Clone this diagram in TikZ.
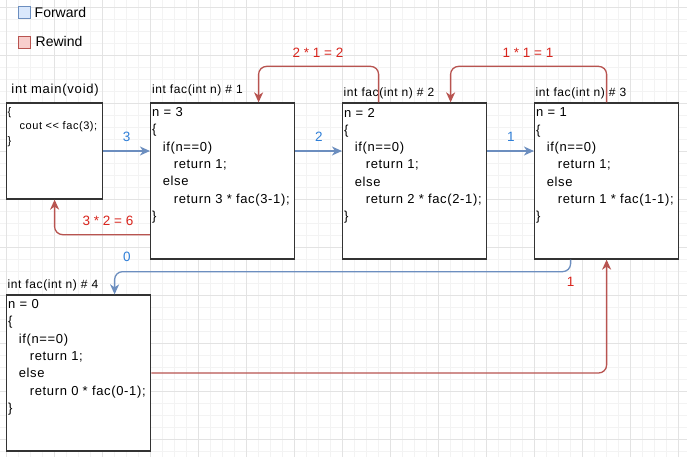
\documentclass[tikz,border=0pt]{standalone}
\usepackage{fontspec}
\setmainfont{Liberation Sans}
\newfontfamily\codefont[LetterSpace=5]{Liberation Sans}
\newfontfamily\headfont[LetterSpace=5]{Liberation Sans}
\newfontfamily\mainheadfont[LetterSpace=6]{Liberation Sans}
\usetikzlibrary{arrows.meta}
\definecolor{fwdline}{HTML}{6C8EBF}
\definecolor{fwdfill}{HTML}{DAE8FC}
\definecolor{rewline}{HTML}{B85450}
\definecolor{rewfill}{HTML}{F8CECC}
\definecolor{fwdtext}{HTML}{2F7FD8}
\definecolor{rewtext}{HTML}{D9251D}
\definecolor{boxline}{HTML}{333333}
\definecolor{gridminor}{HTML}{F3F3F3}
\definecolor{gridmajor}{HTML}{E3E3E3}

\begin{document}
\begin{tikzpicture}[x=1pt,y=-1pt,
  codebox/.style={draw=boxline, line width=1.3pt, fill=white, inner sep=0pt},
  code/.style={anchor=north west, inner sep=0pt, align=left,
    font={\codefont\fontsize{13}{17.3}\selectfont}},
  maincode/.style={anchor=north west, inner sep=0pt, align=left,
    font={\codefont\fontsize{11}{14.3}\selectfont}},
  head/.style={anchor=west, inner sep=0pt, font={\headfont\fontsize{12}{14}\selectfont}},
  legend/.style={anchor=west, inner sep=0pt, font={\fontsize{14}{16}\selectfont}},
  fwd/.style={draw=fwdline, line width=1.3pt, rounded corners=8pt,
    -{Stealth[length=10pt,width=9pt,inset=3pt]}},
  rew/.style={draw=rewline, line width=1.3pt, rounded corners=8pt,
    -{Stealth[length=10pt,width=9pt,inset=3pt]}},
  fwdlabel/.style={inner sep=0pt, text=fwdtext, font={\fontsize{13.5}{16}\selectfont}},
  rewlabel/.style={inner sep=0pt, text=rewtext, font={\fontsize{13.5}{16}\selectfont}},
]
\useasboundingbox (0,0) rectangle (687,457);
\fill[white] (0,0) rectangle (687,457);

% background grid: fine lines every 12pt, stronger lines every 48pt
\foreach \i in {0,...,56} {
  \draw[gridminor, line width=0.8pt] (6.6+12*\i,0) -- (6.6+12*\i,457);
}
\foreach \j in {0,...,37} {
  \draw[gridminor, line width=0.8pt] (0,7+12*\j) -- (687,7+12*\j);
}
\foreach \i in {0,...,14} {
  \draw[gridmajor, line width=0.8pt] (6.6+48*\i,0) -- (6.6+48*\i,457);
}
\foreach \j in {0,...,9} {
  \draw[gridmajor, line width=0.8pt] (0,7+48*\j) -- (687,7+48*\j);
}

% legend
\node[draw=fwdline, fill=fwdfill, line width=1pt, minimum size=12pt, inner sep=0pt] (kfwd) at (24.6,13) {};
\node[legend] (kfwdtext) at (34.5,12) {Forward};
\node[draw=rewline, fill=rewfill, line width=1pt, minimum size=12pt, inner sep=0pt] (krew) at (24.6,42.5) {};
\node[legend] (krewtext) at (35.5,41.7) {Rewind};

% call frames
\node[codebox, minimum width=96pt, minimum height=96pt] (main) at (54.6,151) {};
\node[codebox, minimum width=144pt, minimum height=156pt] (f1) at (222.6,181) {};
\node[codebox, minimum width=144pt, minimum height=156pt] (f2) at (414.6,181) {};
\node[codebox, minimum width=144pt, minimum height=156pt] (f3) at (606.6,181) {};
\node[codebox, minimum width=144pt, minimum height=156pt] (f4) at (78.6,373) {};

% frame titles
\node[head, font={\mainheadfont\fontsize{13}{15}\selectfont}] (tmain) at (11.2,90) {int main(void)};
\node[head] (t1) at (152,90.3) {int fac(int n) \# 1};
\node[head] (t2) at (343.5,93.8) {int fac(int n) \# 2};
\node[head] (t3) at (535.5,93.8) {int fac(int n) \# 3};
\node[head] (t4) at (7.5,285.5) {int fac(int n) \# 4};

% frame bodies
\node[maincode] (cmain) at (7.5,107.3) {\{\\\hspace*{12pt}cout << fac(3);\\\}};
\node[code] (c1) at (152,107.3) {n = 3\\\{\\\hspace*{10.6pt}if(n==0)\\\hspace*{21.6pt}return 1;\\\hspace*{10.6pt}else\\\hspace*{21.6pt}return 3 * fac(3-1);\\\}};
\node[code] (c2) at (344,107.8) {n = 2\\\{\\\hspace*{10.6pt}if(n==0)\\\hspace*{21.6pt}return 1;\\\hspace*{10.6pt}else\\\hspace*{21.6pt}return 2 * fac(2-1);\\\}};
\node[code] (c3) at (536,107.8) {n = 1\\\{\\\hspace*{10.6pt}if(n==0)\\\hspace*{21.6pt}return 1;\\\hspace*{10.6pt}else\\\hspace*{21.6pt}return 1 * fac(1-1);\\\}};
\node[code] (c4) at (8,299.3) {n = 0\\\{\\\hspace*{10.6pt}if(n==0)\\\hspace*{21.6pt}return 1;\\\hspace*{10.6pt}else\\\hspace*{21.6pt}return 0 * fac(0-1);\\\}};

% forward calls
\draw[fwd] (main.east) -- (main.east -| f1.west);
\draw[fwd] (f1.east |- main.east) -- (f2.west |- main.east);
\draw[fwd] (f2.east |- main.east) -- (f3.west |- main.east);
\draw[fwd] ([xshift=-36pt]f3.south) -- ++(0,12) -| ([xshift=36pt]f4.north);

% returned values
\draw[rew] ([yshift=25pt]f1.south west) -| (main.south);
\draw[rew] ([xshift=-36pt]f2.north) -- ++(0,-36) -| ([xshift=36pt]f1.north);
\draw[rew] (f3.north) -- ++(0,-36) -| ([xshift=36pt]f2.north);
\draw[rew] (f4.east) -| (f3.south);

% edge labels
\node[fwdlabel] (l3) at (126.6,137) {3};
\node[fwdlabel] (l2) at (318.8,137) {2};
\node[fwdlabel] (l1) at (510.8,137) {1};
\node[fwdlabel] (l0) at (126.8,257) {0};
\node[rewlabel] (r6) at (108,221) {3 * 2 = 6};
\node[rewlabel] (r2) at (318,53) {2 * 1 = 2};
\node[rewlabel] (r1) at (528,53) {1 * 1 = 1};
\node[rewlabel] (r0) at (570.6,282) {1};
\end{tikzpicture}
\end{document}
